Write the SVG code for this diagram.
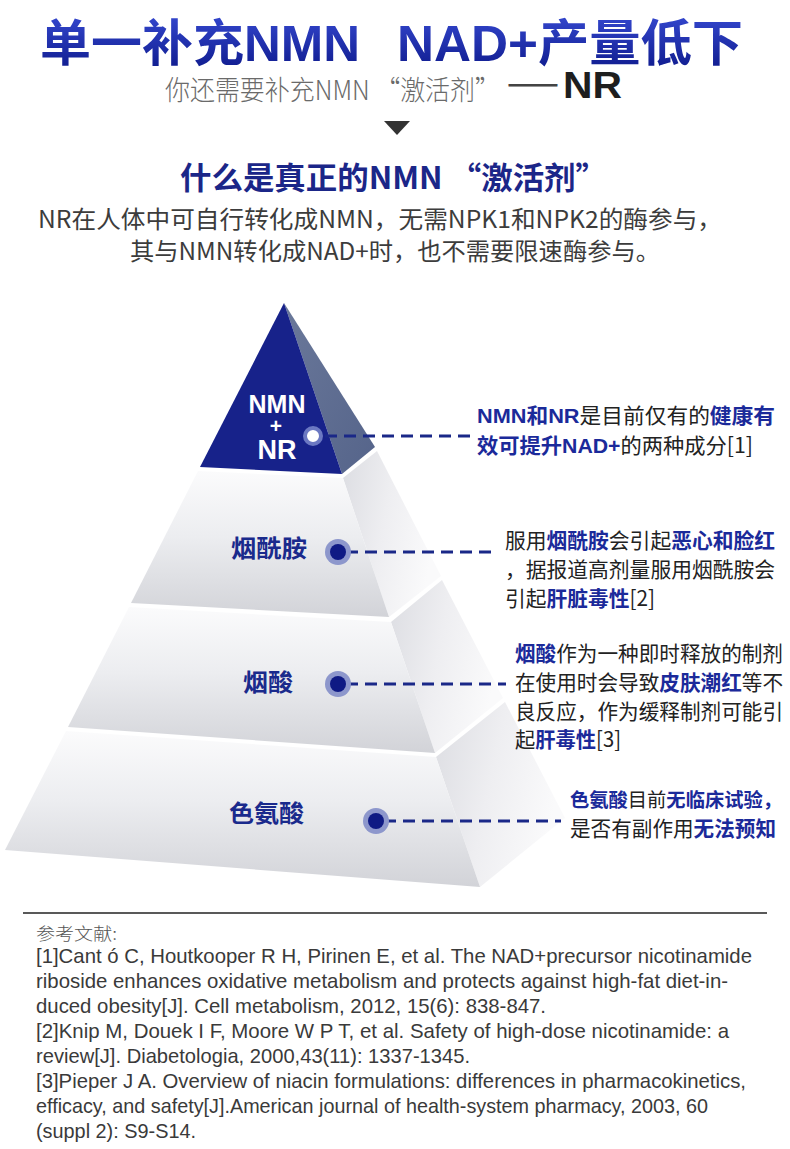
<svg xmlns="http://www.w3.org/2000/svg" width="790" height="1149" viewBox="0 0 790 1149">
<defs>
<linearGradient id="titleGrad" x1="0" y1="0" x2="0" y2="1">
<stop offset="0" stop-color="#3346cc"/>
<stop offset="1" stop-color="#0e1a8c"/>
</linearGradient>
<linearGradient id="frontGrad" x1="0" y1="0" x2="0" y2="1">
<stop offset="0" stop-color="#fbfbfc"/>
<stop offset="0.45" stop-color="#ecedf0"/>
<stop offset="1" stop-color="#d2d3d8"/>
</linearGradient>
<linearGradient id="sideGrad" x1="0" y1="0" x2="1" y2="0.3">
<stop offset="0" stop-color="#dcdde2"/>
<stop offset="0.5" stop-color="#eeeef1"/>
<stop offset="1" stop-color="#fafafb"/>
</linearGradient>
<linearGradient id="topSide" x1="0" y1="0" x2="1" y2="1">
<stop offset="0" stop-color="#6a789a"/>
<stop offset="1" stop-color="#55648a"/>
</linearGradient>
<style>
.cjk{font-family:"Noto Sans CJK SC","Liberation Sans",sans-serif;}
.lat{font-family:"Liberation Sans","Noto Sans CJK SC",sans-serif;}
.desc{font-family:"Noto Sans CJK SC","Liberation Sans",sans-serif;font-size:21px;fill:#222;}
.hl{fill:#1b2a9a;font-weight:bold;}
.hlat{fill:#1b2a9a;font-weight:bold;font-family:"Liberation Sans","Noto Sans CJK SC",sans-serif;}
.label{font-family:"Noto Sans CJK SC","Liberation Sans",sans-serif;font-size:24px;font-weight:bold;fill:#1a2a8c;}
.ref{font-family:"Liberation Sans","Noto Sans CJK SC",sans-serif;font-size:21px;fill:#3a3a3a;}
.dash{stroke:#1a2888;stroke-width:3;stroke-dasharray:12 7;fill:none;}
.halo{fill:#8d97cc;}
.dot{fill:#0f1a84;}
.front{fill:url(#frontGrad);}
.side{fill:url(#sideGrad);}
</style>
</defs>
<rect width="790" height="1149" fill="#ffffff"/>

<g id="title">
<text class="lat" x="40" y="61" font-size="50" font-weight="bold" fill="url(#titleGrad)" textLength="320" lengthAdjust="spacingAndGlyphs">单一补充NMN</text>
<text class="lat" x="397" y="61" font-size="50" font-weight="bold" fill="url(#titleGrad)" textLength="346" lengthAdjust="spacingAndGlyphs">NAD+产量低下</text>
</g>

<g id="subtitle">
<text class="cjk" x="165" y="100" font-size="27" font-weight="300" fill="#6a6a6a" textLength="335" lengthAdjust="spacingAndGlyphs">你还需要补充NMN “激活剂”</text>
<text class="cjk" x="507" y="93" font-size="27" font-weight="bold" fill="#444444" textLength="52" lengthAdjust="spacingAndGlyphs">——</text>
<text class="lat" x="563" y="98" font-size="37" font-weight="bold" fill="#1e1e1e" textLength="59" lengthAdjust="spacingAndGlyphs">NR</text>
<polygon points="384,121 410,121 397,135" fill="#333333"/>
</g>

<g id="heading">
<text class="cjk" x="180" y="189" font-size="31" font-weight="bold" fill="#1b2688" textLength="427" lengthAdjust="spacingAndGlyphs">什么是真正的NMN “激活剂”</text>
<text class="cjk" x="38" y="228" font-size="24" fill="#3c3c3c" textLength="684" lengthAdjust="spacingAndGlyphs">NR在人体中可自行转化成NMN，无需NPK1和NPK2的酶参与，</text>
<text class="cjk" x="130" y="260" font-size="24" fill="#3c3c3c" textLength="530" lengthAdjust="spacingAndGlyphs">其与NMN转化成NAD+时，也不需要限速酶参与。</text>
</g>

<g id="pyramid">
<g id="layer-tryptophan">
<polygon class="side" points="436,757 505,702 565,818 480,887"/>
<polygon class="front" points="66,731 436,757 480,887 5,850"/>
<text class="label" x="229" y="822" textLength="75" lengthAdjust="spacingAndGlyphs">色氨酸</text>
</g>
<g id="layer-niacin">
<polygon class="side" points="391,622 442,580 503,698 435,753"/>
<polygon class="front" points="129,607 391,622 435,753 68,727"/>
<text class="label" x="243" y="691" textLength="50" lengthAdjust="spacingAndGlyphs">烟酸</text>
</g>
<g id="layer-nicotinamide">
<polygon class="side" points="343,478 377,451 441,576 389,617"/>
<polygon class="front" points="198,471 343,478 389,617 131,603"/>
<text class="label" x="231" y="557" textLength="76" lengthAdjust="spacingAndGlyphs">烟酰胺</text>
</g>
<g id="layer-nmn-nr">
<polygon points="284,303 342,474 375,447" fill="url(#topSide)"/>
<polygon points="284,303 200,467 342,474" fill="#17228a"/>
<text class="lat" x="277" y="413" font-size="25" font-weight="bold" fill="#ffffff" text-anchor="middle">NMN</text>
<text class="lat" x="276" y="433" font-size="21" font-weight="bold" fill="#ffffff" text-anchor="middle">+</text>
<text class="lat" x="277" y="459" font-size="27" font-weight="bold" fill="#ffffff" text-anchor="middle">NR</text>
</g>
</g>

<g id="connectors">
<line class="dash" x1="325" y1="436" x2="470" y2="436"/>
<line class="dash" x1="346" y1="552" x2="497" y2="552"/>
<line class="dash" x1="346" y1="684" x2="506" y2="684"/>
<line class="dash" x1="384" y1="821" x2="561" y2="821"/>
<circle cx="313" cy="436" r="8" fill="#ffffff" stroke="#6b78c2" stroke-width="4"/>
<circle class="halo" cx="338" cy="552" r="13"/>
<circle class="dot" cx="338" cy="552" r="8"/>
<circle class="halo" cx="338" cy="684" r="13"/>
<circle class="dot" cx="338" cy="684" r="8"/>
<circle class="halo" cx="376" cy="821" r="13"/>
<circle class="dot" cx="376" cy="821" r="8"/>
</g>

<g id="desc-nmn-nr">
<text class="desc" x="477" y="423" textLength="298" lengthAdjust="spacingAndGlyphs"><tspan class="hlat">NMN</tspan><tspan class="hl">和</tspan><tspan class="hlat">NR</tspan>是目前仅有的<tspan class="hl">健康有</tspan></text>
<text class="desc" x="477" y="453" textLength="276" lengthAdjust="spacingAndGlyphs"><tspan class="hl">效可提升</tspan><tspan class="hlat">NAD+</tspan>的两种成分[1]</text>
</g>

<g id="desc-nicotinamide">
<text class="desc" x="505" y="548" textLength="270" lengthAdjust="spacingAndGlyphs">服用<tspan class="hl">烟酰胺</tspan>会引起<tspan class="hl">恶心和脸红</tspan></text>
<text class="desc" x="505" y="577" textLength="270" lengthAdjust="spacingAndGlyphs">，据报道高剂量服用烟酰胺会</text>
<text class="desc" x="505" y="606" textLength="150" lengthAdjust="spacingAndGlyphs">引起<tspan class="hl">肝脏毒性</tspan>[2]</text>
</g>

<g id="desc-niacin">
<text class="desc" x="515" y="661" textLength="268" lengthAdjust="spacingAndGlyphs"><tspan class="hl">烟酸</tspan>作为一种即时释放的制剂</text>
<text class="desc" x="515" y="690" textLength="268" lengthAdjust="spacingAndGlyphs">在使用时会导致<tspan class="hl">皮肤潮红</tspan>等不</text>
<text class="desc" x="515" y="719" textLength="268" lengthAdjust="spacingAndGlyphs">良反应，作为缓释制剂可能引</text>
<text class="desc" x="515" y="747" textLength="106" lengthAdjust="spacingAndGlyphs">起<tspan class="hl">肝毒性</tspan>[3]</text>
</g>

<g id="desc-tryptophan">
<text class="desc" x="570" y="807" font-size="19.5" style="font-size:19.5px" textLength="212" lengthAdjust="spacingAndGlyphs"><tspan class="hl">色氨酸</tspan>目前<tspan class="hl">无临床试验，</tspan></text>
<text class="desc" x="570" y="836" textLength="206" lengthAdjust="spacingAndGlyphs">是否有副作用<tspan class="hl">无法预知</tspan></text>
</g>

<g id="references">
<line x1="23" y1="913" x2="767" y2="913" stroke="#222222" stroke-width="1.5"/>
<text class="cjk" x="36" y="940" font-size="17" font-weight="300" fill="#555555" textLength="81" lengthAdjust="spacingAndGlyphs">参考文献:</text>
<text class="ref" x="36" y="963" textLength="716" lengthAdjust="spacingAndGlyphs">[1]Cant ó  C, Houtkooper R H, Pirinen E, et al. The NAD+precursor nicotinamide</text>
<text class="ref" x="36" y="988" textLength="692" lengthAdjust="spacingAndGlyphs">riboside enhances oxidative metabolism and protects against high-fat diet-in-</text>
<text class="ref" x="36" y="1013" textLength="510" lengthAdjust="spacingAndGlyphs">duced obesity[J]. Cell metabolism, 2012, 15(6): 838-847.</text>
<text class="ref" x="36" y="1038" textLength="693" lengthAdjust="spacingAndGlyphs">[2]Knip M, Douek I F, Moore W P T, et al. Safety of high-dose nicotinamide: a</text>
<text class="ref" x="36" y="1063" textLength="434" lengthAdjust="spacingAndGlyphs">review[J]. Diabetologia, 2000,43(11): 1337-1345.</text>
<text class="ref" x="36" y="1088" textLength="710" lengthAdjust="spacingAndGlyphs">[3]Pieper J A. Overview of niacin formulations: differences in pharmacokinetics,</text>
<text class="ref" x="36" y="1113" textLength="672" lengthAdjust="spacingAndGlyphs">efficacy, and safety[J].American journal of health-system pharmacy, 2003, 60</text>
<text class="ref" x="36" y="1138" textLength="160" lengthAdjust="spacingAndGlyphs">(suppl 2): S9-S14.</text>
</g>
</svg>
